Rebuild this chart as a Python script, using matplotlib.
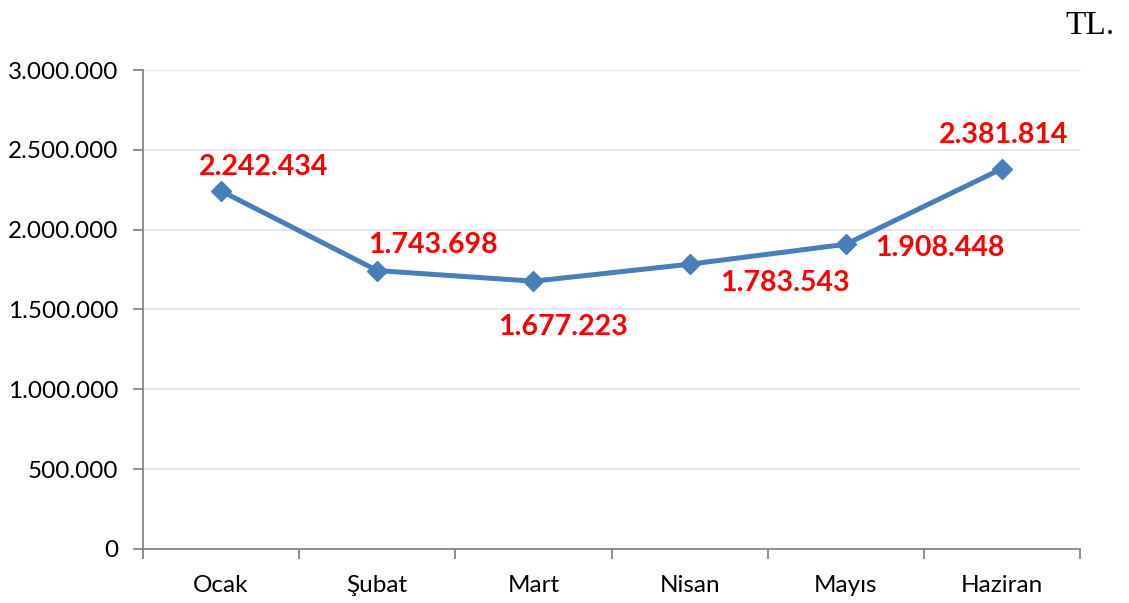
import matplotlib.pyplot as plt
import numpy as np

months = ['Ocak', 'Şubat', 'Mart', 'Nisan', 'Mayıs', 'Haziran']
values = [2242434, 1743698, 1677223, 1783543, 1908448, 2381814]
label_offsets = [(42, 24), (56, 26), (30, -46), (95, -19), (94, -4), (2, 34)]

yticks = [0, 500000, 1000000, 1500000, 2000000, 2500000, 3000000]


def tr_fmt(v):
    return '{:,}'.format(int(v)).replace(',', '.')


fig = plt.figure(figsize=(11.29, 6.03), dpi=100)
ax = fig.add_axes([0.1267, 0.0896, 0.8299, 0.7943])

x = np.arange(len(months))
ax.plot(x, values, color='#4a7ebb', lw=3.6, marker='D', ms=10,
        markerfacecolor='#4a7ebb', markeredgecolor='#4a7ebb', zorder=3)

for xi, v, off in zip(x, values, label_offsets):
    ax.annotate(tr_fmt(v), (xi, v), xytext=off, textcoords='offset pixels',
                ha='center', va='center', color='#ff0000',
                fontsize=20.5, fontweight='bold', family='Lato')

ax.set_xlim(-0.5, len(months) - 0.5)
ax.set_ylim(0, 3000000)
ax.set_yticks(yticks)
ax.set_yticklabels([tr_fmt(t) for t in yticks], family='Lato', fontsize=17.5)
ax.set_xticks(x)
ax.set_xticklabels(months, family='Lato', fontsize=17.5)
ax.set_xticks(np.arange(-0.5, len(months)), minor=True)

ax.grid(axis='y', color='#dbe5f1', lw=1.3, zorder=0)
ax.tick_params(axis='x', which='major', length=0, pad=19)
ax.tick_params(axis='x', which='minor', length=7, width=1.3, color='#868686',
               direction='out')
ax.tick_params(axis='y', length=7, width=1.3, color='#868686', pad=11)

for s in ['top', 'right']:
    ax.spines[s].set_visible(False)
for s in ['left', 'bottom']:
    ax.spines[s].set_color('#868686')
    ax.spines[s].set_linewidth(1.3)

fig.text(0.9876, 0.958, 'TL.', ha='right', va='center', family='Liberation Serif',
         fontsize=24)

fig.savefig('out.png', dpi=100)
